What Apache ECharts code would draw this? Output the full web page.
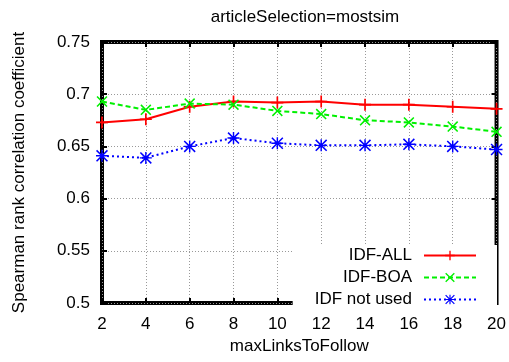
<!DOCTYPE html>
<html>
<head>
<meta charset="utf-8">
<script src="https://cdn.jsdelivr.net/npm/echarts@6/dist/echarts.min.js"></script>
<style>
  html, body { margin: 0; padding: 0; background: #fff; }
  #chart { width: 509px; height: 362px; }
</style>
</head>
<body>
<div id="chart"></div>
<script>
// values
const maxLinks = [2, 4, 6, 8, 10, 12, 14, 16, 18, 20]
const idfAll = [0.673, 0.676, 0.688, 0.693, 0.692, 0.693, 0.690, 0.690, 0.688, 0.686]
const idfBoa = [0.693, 0.685, 0.691, 0.690, 0.684, 0.681, 0.675, 0.673, 0.669, 0.664]
const idfNone = [0.641, 0.639, 0.650, 0.658, 0.653, 0.651, 0.651, 0.652, 0.650, 0.647]
const seriesNames = ['IDF-ALL', 'IDF-BOA', 'IDF not used']

const FONT = '"Liberation Sans", Arial, sans-serif'

// gnuplot-like point types
const PLUS = 'path://M4.3,0H5.7V4.3H10V5.7H5.7V10H4.3V5.7H0V4.3H4.3Z'
const CROSS = 'path://M0,1L1,0L5,4L9,0L10,1L6,5L10,9L9,10L5,6L1,10L0,9L4,5Z'
const STAR = 'path://M4.4,0H5.6V4.4H10V5.6H5.6V10H4.4V5.6H0V4.4H4.4Z' +
  'M0,0.9L0.9,0L5,4.1L9.1,0L10,0.9L5.9,5L10,9.1L9.1,10L5,5.9L0.9,10L0,9.1L4.1,5Z'

const pairs = ys => maxLinks.map((x, i) => [x, ys[i]])

const chart = echarts.init(document.getElementById('chart'))

const gridLine = { show: true, lineStyle: { color: '#999', type: [1, 2], width: 1 } }
const ticks = { show: true, inside: true, length: 5, lineStyle: { color: '#000', width: 2 } }

chart.setOption({
  animation: false,
  textStyle: { fontFamily: FONT },
  title: {
    text: 'articleSelection=mostsim',
    left: 300,
    textAlign: 'center',
    top: 4,
    textStyle: { fontFamily: FONT, fontSize: 17, fontWeight: 'normal', color: '#000' }
  },
  grid: {
    left: 102, right: 10, top: 42, bottom: 59,
    show: true, borderColor: '#000', borderWidth: 4, backgroundColor: 'transparent'
  },
  xAxis: [{
    type: 'value', min: 2, max: 20, interval: 2,
    name: 'maxLinksToFollow', nameLocation: 'middle', nameGap: 33,
    nameTextStyle: { fontFamily: FONT, fontSize: 17, color: '#000' },
    axisLine: { show: false },
    axisTick: ticks,
    splitLine: gridLine,
    axisLabel: { fontFamily: FONT, fontSize: 17, color: '#000', margin: 13 }
  }, {
    type: 'value', min: 2, max: 20, interval: 2, position: 'top',
    axisLine: { show: false }, axisTick: ticks, axisLabel: { show: false }, splitLine: { show: false }
  }],
  yAxis: [{
    type: 'value', min: 0.5, max: 0.75, interval: 0.05,
    name: 'Spearman rank correlation coefficient', nameLocation: 'middle', nameGap: 74,
    nameTextStyle: { fontFamily: FONT, fontSize: 17, color: '#000' },
    axisLine: { show: false },
    axisTick: ticks,
    splitLine: gridLine,
    axisLabel: { fontFamily: FONT, fontSize: 17, color: '#000', margin: 12 }
  }, {
    type: 'value', min: 0.5, max: 0.75, interval: 0.05, position: 'right',
    axisLine: { show: false }, axisTick: ticks, axisLabel: { show: false }, splitLine: { show: false }
  }],
  legend: {
    orient: 'vertical',
    align: 'right',
    right: 12,
    top: 245,
    padding: [2, 20, 5, 22],
    backgroundColor: '#fff',
    itemWidth: 52,
    itemHeight: 12,
    itemGap: 5,
    data: seriesNames,
    formatter: name => '{t|' + name + '}',
    textStyle: {
      fontFamily: FONT, fontSize: 17, color: '#000',
      rich: {
        t: { fontFamily: FONT, fontSize: 17, color: '#000', width: 104, align: 'right', padding: [0, 7, 0, 0] }
      }
    }
  },
  series: [{
    name: seriesNames[0], type: 'line', data: pairs(idfAll),
    symbol: PLUS, symbolSize: 12,
    itemStyle: { color: '#ff0000' },
    lineStyle: { color: '#ff0000', width: 2, type: 'solid' }
  }, {
    name: seriesNames[1], type: 'line', data: pairs(idfBoa),
    symbol: CROSS, symbolSize: 11,
    itemStyle: { color: '#00f000' },
    lineStyle: { color: '#00f000', width: 2, type: [5, 3] }
  }, {
    name: seriesNames[2], type: 'line', data: pairs(idfNone),
    symbol: STAR, symbolSize: 12,
    itemStyle: { color: '#0000ff' },
    lineStyle: { color: '#0000ff', width: 2, type: [2, 3] }
  }]
})
</script>
</body>
</html>
